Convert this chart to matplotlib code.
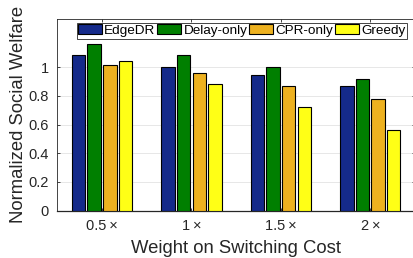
import numpy as np
import matplotlib.pyplot as plt

plt.rcParams['font.family'] = ['Liberation Sans', 'DejaVu Sans']

# data
groups = ['0.5\u2009×', '1\u2009×', '1.5\u2009×', '2\u2009×']
methods = ['EdgeDR', 'Delay-only', 'CPR-only', 'Greedy']
edgedr = [1.086, 1.0, 0.942, 0.868]
delay_only = [1.16, 1.086, 1.0, 0.917]
cpr_only = [1.017, 0.961, 0.866, 0.776]
greedy = [1.04, 0.88, 0.722, 0.565]
colors = ['#152a8a', '#007f00', '#edb120', '#ffff16']

series = [edgedr, delay_only, cpr_only, greedy]

fig = plt.figure(figsize=(4.13, 2.58), dpi=100)
ax = fig.add_axes([57.3/413, 1-210.7/258, (415-57.3)/413, (210.7-19)/258])

x = np.arange(1, len(groups)+1)
slot = 0.175
width = 0.15
for i, vals in enumerate(series):
    ax.bar(x + (i-1.5)*slot, vals, width, color=colors[i], edgecolor='black',
           linewidth=0.8, label=methods[i], zorder=3)

ax.set_xlim(0.5, 4.5)
ax.set_ylim(0, 1.335)
ax.set_xticks(x)
ax.set_xticklabels(groups)
ax.set_yticks([0, 0.2, 0.4, 0.6, 0.8, 1])
ax.set_yticklabels(['0', '0.2', '0.4', '0.6', '0.8', '1'])
ax.yaxis.grid(True, color='#e3e3e3', linewidth=0.6, zorder=0)
ax.tick_params(direction='in', length=2.5, width=0.6, colors='#262626',
               labelsize=10.5, top=True, right=True, pad=6)
for s in ax.spines.values():
    s.set_color('#262626')
    s.set_linewidth(0.6)
ax.spines['bottom'].set_linewidth(0.9)

ax.set_xlabel('Weight on Switching Cost', fontsize=13.3, color='#262626', labelpad=5)
ax.set_ylabel('Normalized Social Welfare', fontsize=13.3, color='#262626', labelpad=1)

leg = ax.legend(loc='upper right', bbox_to_anchor=(407/413, 1-22.5/258),
                bbox_transform=fig.transFigure, ncol=4, fontsize=9.7,
                frameon=True, fancybox=False, borderaxespad=0, borderpad=0.12,
                handlelength=1.78, handleheight=0.8, handletextpad=0.15,
                columnspacing=0.15)
leg.get_frame().set_edgecolor('#262626')
leg.get_frame().set_linewidth(0.6)
leg.get_frame().set_alpha(1)

fig.savefig('out.png', dpi=100)
